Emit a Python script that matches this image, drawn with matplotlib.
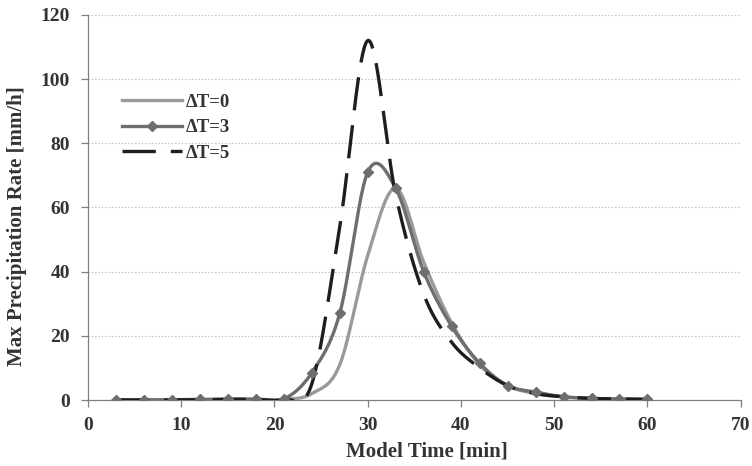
import numpy as np
import matplotlib
matplotlib.use("Agg")
import matplotlib.pyplot as plt
from matplotlib.lines import Line2D

time_min = [3, 6, 9, 12, 15, 18, 21, 24, 27, 30, 33, 36, 39, 42, 45, 48, 51, 54, 57, 60]
dT0 = [0.0, 0.0, 0.1, 0.1, 0.2, 0.2, 0.2, 2.0, 11.0, 45.0, 66.0, 43.0, 24.0, 11.0, 4.5, 2.0, 1.0, 0.5, 0.3, 0.2]
dT3 = [0.0, 0.0, 0.1, 0.2, 0.3, 0.3, 0.3, 8.5, 27.0, 71.0, 66.0, 40.0, 23.0, 11.5, 4.5, 2.5, 1.0, 0.5, 0.3, 0.2]
dT5 = [0.0, 0.0, 0.0, 0.1, 0.2, 0.2, 0.2, 5.0, 54.0, 112.0, 64.0, 33.0, 18.0, 10.0, 4.5, 2.0, 1.0, 0.5, 0.3, 0.2]
labels = ["\u0394T=0", "\u0394T=3", "\u0394T=5"]


def smooth(x, y, n=40):
    # Catmull-Rom spline (similar to Excel "smoothed line")
    x = np.asarray(x, float); y = np.asarray(y, float)
    px = np.concatenate([[2 * x[0] - x[1]], x, [2 * x[-1] - x[-2]]])
    py = np.concatenate([[2 * y[0] - y[1]], y, [2 * y[-1] - y[-2]]])
    xs, ys = [], []
    for i in range(1, len(px) - 2):
        t = np.linspace(0, 1, n, endpoint=False)
        for arr, out in ((px, xs), (py, ys)):
            p0, p1, p2, p3 = arr[i - 1], arr[i], arr[i + 1], arr[i + 2]
            out.extend(0.5 * ((2 * p1) + (-p0 + p2) * t + (2 * p0 - 5 * p1 + 4 * p2 - p3) * t ** 2
                              + (-p0 + 3 * p1 - 3 * p2 + p3) * t ** 3))
    xs.append(x[-1]); ys.append(y[-1])
    return np.array(xs), np.array(ys)


plt.rcParams['font.family'] = ['Liberation Serif', 'DejaVu Serif']
plt.rcParams['font.weight'] = 'bold'

fig = plt.figure(figsize=(7.52, 4.66), dpi=100)
ax = fig.add_axes([0.117, 0.1416, 0.868, 0.8264])

tc = '#333333'
c0, c3, c5 = '#9a9a9a', '#6e6e6e', '#1e1e1e'
lw = 2.4
dash = (10, 4.5)

x0, y0 = smooth(time_min, dT0)
ax.plot(x0, y0, color=c0, lw=lw, zorder=3)
x3, y3 = smooth(time_min, dT3)
ax.plot(x3, y3, color=c3, lw=lw, zorder=4)
ax.plot(time_min, dT3, linestyle='none', marker='D', ms=5.5, color=c3, zorder=5)
x5, y5 = smooth(time_min, dT5)
ax.plot(x5, y5, color=c5, lw=lw, dashes=dash, zorder=4)

h0 = Line2D([], [], color=c0, lw=lw)
h3 = Line2D([], [], color=c3, lw=lw, marker='D', ms=5.5)
h5 = Line2D([], [], color=c5, lw=lw, dashes=dash)
leg = ax.legend([h0, h3, h5], labels, loc='upper left', bbox_to_anchor=(0.041, 0.815),
                frameon=False, prop={'family': 'Liberation Serif', 'weight': 'bold', 'size': 13.5},
                handlelength=3.2, labelspacing=0.45, handletextpad=0.2, borderaxespad=0)
for t in leg.get_texts():
    t.set_color(tc)

ax.set_xlim(0, 70)
ax.set_ylim(0, 120)
ax.set_xticks(range(0, 71, 10))
ax.set_yticks(range(0, 121, 20))
ax.yaxis.grid(True, linestyle=(0, (1, 2)), color='#b0b0b0', lw=0.8)
ax.set_axisbelow(True)
for s in ['top', 'right']:
    ax.spines[s].set_visible(False)
for s in ['left', 'bottom']:
    ax.spines[s].set_color('#808080')
    ax.spines[s].set_linewidth(0.9)
ax.tick_params(axis='both', colors='#808080', labelcolor=tc, labelsize=14, length=5, width=0.9)
ax.tick_params(axis='x', pad=7)
ax.tick_params(axis='y', pad=8)
ax.set_xlabel('Model Time [min]', fontsize=15, fontweight='bold', color=tc)
ax.set_ylabel('Max Precipitation Rate [mm/h]', fontsize=15, fontweight='bold', color=tc)
ax.xaxis.set_label_coords(0.519, -0.108)
ax.yaxis.set_label_coords(-0.093, 0.452)

fig.savefig('out.png', dpi=100)
